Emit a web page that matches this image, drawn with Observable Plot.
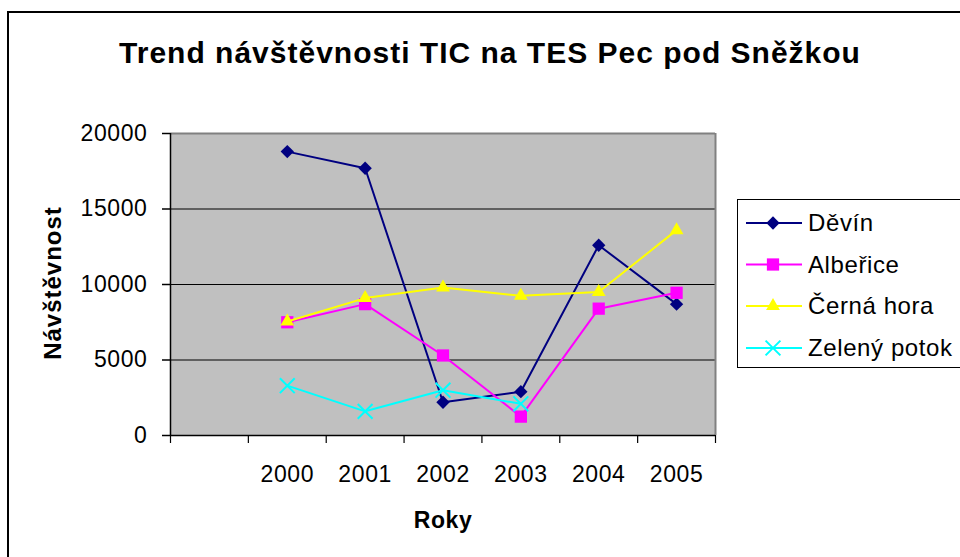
<!DOCTYPE html>
<html>
<head>
<meta charset="utf-8">
<script src="https://cdn.jsdelivr.net/npm/d3@7"></script>
<script src="https://cdn.jsdelivr.net/npm/@observablehq/plot@0.6"></script>
<style>
  html, body { margin: 0; padding: 0; background: #fff; }
  #wrap { position: relative; width: 960px; height: 557px; overflow: hidden; font-family: "Liberation Sans", Arial, sans-serif; }
  #wrap > svg { position: absolute; left: 0; top: 0; }
  #overlay { pointer-events: none; }
</style>
</head>
<body>
<div id="wrap"></div>
<script>
// ---- data ----
const categories = ["", "2000", "2001", "2002", "2003", "2004", "2005"];
const seriesNames = ["Děvín", "Albeřice", "Černá hora", "Zelený potok"];
const devin       = [18800, 17700, 2200, 2900, 12600, 8700];
const alberice    = [7500, 8700, 5300, 1250, 8400, 9450];
const cernaHora   = [7550, 9100, 9800, 9250, 9500, 13600];
const zelenyPotok = [3300, 1600, 3000, 2100, null, null];
const yTicks = [0, 5000, 10000, 15000, 20000];
const titleText = "Trend návštěvnosti TIC na TES Pec pod Sněžkou";
const yTitle = "Návštěvnost";
const xTitle = "Roky";

// ---- styling ----
const seriesValues = [devin, alberice, cernaHora, zelenyPotok];
const colors  = ["#000080", "#FF00FF", "#FFFF00", "#00FFFF"];
const symbols = ["diamond2", "square2", "triangle2", "times"];
const radii   = [6, 7.8, 6.6, 6.8];
const d3Symbols = [d3.symbolDiamond2, d3.symbolSquare2, d3.symbolTriangle2, d3.symbolTimes];

const rows = [];
seriesNames.forEach((name, s) => {
  seriesValues[s].forEach((v, i) => {
    if (v != null) rows.push({series: name, year: categories[i + 1], value: v});
  });
});
const xPos = d => categories.indexOf(d.year) + 0.5;

const font = '"Liberation Sans", Arial, sans-serif';

const seriesMarks = [];
seriesNames.forEach((name, s) => {
  const data = rows.filter(d => d.series === name);
  seriesMarks.push(Plot.line(data, {x: xPos, y: "value", stroke: colors[s], strokeWidth: 2}));
  if (symbols[s] === "times") {
    seriesMarks.push(Plot.dot(data, {x: xPos, y: "value", symbol: symbols[s], r: radii[s], stroke: colors[s], strokeWidth: 2, fill: "none"}));
  } else {
    seriesMarks.push(Plot.dot(data, {x: xPos, y: "value", symbol: symbols[s], r: radii[s], fill: colors[s], stroke: "none"}));
  }
});

const plot = Plot.plot({
  width: 960,
  height: 557,
  marginLeft: 170,
  marginRight: 245,
  marginTop: 133,
  marginBottom: 122,
  style: {background: "transparent", fontFamily: font, fontSize: "23px", color: "#000", overflow: "visible"},
  x: {type: "linear", domain: [0, categories.length]},
  y: {type: "linear", domain: [0, 20000]},
  marks: [
    Plot.frame({fill: "#C0C0C0", stroke: "none"}),
    Plot.ruleY(yTicks.slice(1, -1), {stroke: "#000", strokeWidth: 1.2}),
    Plot.ruleY([yTicks[yTicks.length - 1]], {stroke: "#808080", strokeWidth: 2}),
    Plot.ruleX([categories.length], {stroke: "#808080", strokeWidth: 2}),
    Plot.ruleX([0], {stroke: "#000", strokeWidth: 1.5}),
    Plot.ruleY([0], {stroke: "#000", strokeWidth: 1.5}),
    Plot.axisY({ticks: yTicks, tickSize: 8, tickPadding: 15, tickFormat: d3.format("d"), label: null, strokeWidth: 1.5, fill: "#000", fontSize: 23}),
    Plot.axisX({ticks: d3.range(0, categories.length + 1), tickSize: 8, tickFormat: () => "", label: null, strokeWidth: 1.2}),
    Plot.axisX({ticks: categories.map((_, i) => i + 0.5), tickSize: 0, tickPadding: 30, tickFormat: v => categories[Math.floor(v)], label: null, fill: "#000", fontSize: 23}),
    ...seriesMarks
  ]
});

const wrap = document.getElementById("wrap");
wrap.appendChild(plot);
d3.select(plot).selectAll("text").style("letter-spacing", "0.6px");

// ---- overlay: outer frame, titles, legend ----
const ov = d3.select(wrap).append("svg")
  .attr("id", "overlay")
  .attr("width", 960).attr("height", 557)
  .style("font-family", font);

ov.append("path").attr("d", "M8,557V12H960").attr("fill", "none").attr("stroke", "#000").attr("stroke-width", 2);

ov.append("text").attr("x", 490).attr("y", 63).attr("text-anchor", "middle")
  .attr("font-size", 30).attr("font-weight", "bold").attr("letter-spacing", "1px").text(titleText);

ov.append("text").attr("transform", "translate(61,283) rotate(-90)").attr("text-anchor", "middle")
  .attr("font-size", 24).attr("font-weight", "bold").attr("letter-spacing", "1px").text(yTitle);

ov.append("text").attr("x", 443).attr("y", 528).attr("text-anchor", "middle")
  .attr("font-size", 23).attr("font-weight", "bold").attr("letter-spacing", "0.6px").text(xTitle);

const lg = ov.append("g");
lg.append("rect").attr("x", 737.5).attr("y", 199.5).attr("width", 300).attr("height", 168)
  .attr("fill", "#fff").attr("stroke", "#000").attr("stroke-width", 1);
const rowY = [223, 264.5, 306, 348];
seriesNames.forEach((name, s) => {
  const y = rowY[s];
  lg.append("line").attr("x1", 746).attr("x2", 802).attr("y1", y).attr("y2", y)
    .attr("stroke", colors[s]).attr("stroke-width", 2);
  const sym = d3.symbol(d3Symbols[s], radii[s] * radii[s] * Math.PI)();
  const p = lg.append("path").attr("d", sym).attr("transform", `translate(773,${y})`);
  if (symbols[s] === "times") p.attr("fill", "none").attr("stroke", colors[s]).attr("stroke-width", 2);
  else p.attr("fill", colors[s]);
  lg.append("text").attr("x", 808).attr("y", y + 8).attr("font-size", 24).attr("letter-spacing", "0.6px").text(name);
});
</script>
</body>
</html>
